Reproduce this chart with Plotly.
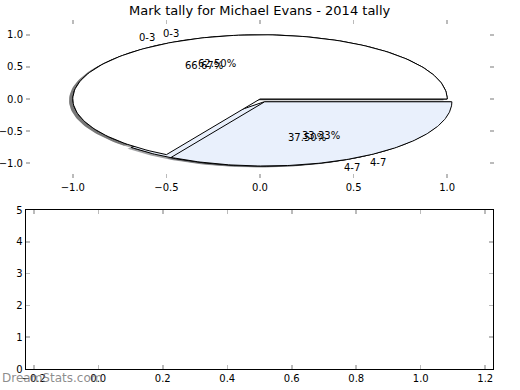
import numpy as np
import plotly.graph_objects as go

# ---- data ----
title_text = "Mark tally for Michael Evans - 2014 tally"
categories = ["0-3", "4-7"]
pie_back = [62.5, 37.5]      # drawn first (underneath)
pie_front = [66.67, 33.33]   # drawn on top
explode = [0.0, 0.05]
wedge_colors = [(255, 255, 255), (233, 240, 252)]
top_xticks = [-1.0, -0.5, 0.0, 0.5, 1.0]
top_yticks = [-1.0, -0.5, 0.0, 0.5, 1.0]
bottom_xticks = [-0.2, 0.0, 0.2, 0.4, 0.6, 0.8, 1.0, 1.2]
bottom_yticks = [0, 1, 2, 3, 4, 5]
watermark = "DreamStats.com"

FONT = "DejaVu Sans"
SHADOW = (-0.02, -0.02)


def wedges(values):
    total = float(sum(values))
    out = []
    t0 = 0.0
    for i, v in enumerate(values):
        frac = v / total
        t1 = t0 + 360.0 * frac
        mid = np.deg2rad((t0 + t1) / 2.0)
        cx = explode[i] * np.cos(mid)
        cy = explode[i] * np.sin(mid)
        th = np.deg2rad(np.linspace(t0, t1, 160))
        xs = np.concatenate([[cx], cx + np.cos(th), [cx]])
        ys = np.concatenate([[cy], cy + np.sin(th), [cy]])
        out.append(dict(x=xs, y=ys, mid=mid, cx=cx, cy=cy, frac=frac, idx=i))
        t0 = t1
    return out


def fmt(v):
    return "%.1f" % v if v >= 0 else "\u2212%.1f" % -v


fig = go.Figure()
pies = [wedges(pie_back), wedges(pie_front)]

# shadows (below every wedge)
for pie in pies:
    for w in pie:
        r, g, b = wedge_colors[w["idx"]]
        col = "rgba(%d,%d,%d,0.5)" % (int(0.3 * r), int(0.3 * g), int(0.3 * b))
        fig.add_trace(go.Scatter(x=w["x"] + SHADOW[0], y=w["y"] + SHADOW[1],
                                 mode="lines", fill="toself", fillcolor=col,
                                 line=dict(width=0, color=col),
                                 hoverinfo="skip", showlegend=False,
                                 xaxis="x", yaxis="y"))

annotations = []
for pie in pies:
    for w in pie:
        r, g, b = wedge_colors[w["idx"]]
        fig.add_trace(go.Scatter(x=w["x"], y=w["y"], mode="lines", fill="toself",
                                 fillcolor="rgb(%d,%d,%d)" % (r, g, b),
                                 line=dict(width=1, color="black"),
                                 hoverinfo="skip", showlegend=False,
                                 xaxis="x", yaxis="y"))
        lx = w["cx"] + 1.1 * np.cos(w["mid"])
        ly = w["cy"] + 1.1 * np.sin(w["mid"])
        annotations.append(dict(x=lx, y=ly, xref="x", yref="y",
                                text=categories[w["idx"]], showarrow=False,
                                xanchor="left" if lx > 0 else "right",
                                yanchor="middle",
                                font=dict(family=FONT, size=10, color="black")))
        px = w["cx"] + 0.6 * np.cos(w["mid"])
        py = w["cy"] + 0.6 * np.sin(w["mid"])
        annotations.append(dict(x=px, y=py, xref="x", yref="y",
                                text="%.2f%%" % (100 * w["frac"]), showarrow=False,
                                xanchor="center", yanchor="middle",
                                font=dict(family=FONT, size=10, color="black")))

annotations.append(dict(x=0.5, y=(390 - 10) / 390, xref="paper", yref="paper",
                        text=title_text, showarrow=False, xanchor="center",
                        yanchor="middle",
                        font=dict(family=FONT, size=13, color="black")))
annotations.append(dict(x=0.0, y=(390 - 378) / 390, xref="paper", yref="paper",
                        text=watermark, showarrow=False, xanchor="left",
                        yanchor="middle",
                        font=dict(family=FONT, size=12, color="rgba(120,120,120,0.85)")))

tick_common = dict(ticks="inside", ticklen=4, tickwidth=1.5, tickcolor="#bbbbbb",
                   showgrid=False, zeroline=False, automargin=False,
                   tickfont=dict(family=FONT, size=10, color="black"))

fig.update_layout(
    width=520, height=390,
    margin=dict(l=0, r=0, t=0, b=0, pad=0, autoexpand=False),
    paper_bgcolor="white", plot_bgcolor="white",
    showlegend=False,
    annotations=annotations,
    xaxis=dict(domain=[26 / 520, 494 / 520], range=[-1.25, 1.25],
               tickvals=top_xticks, ticktext=[fmt(v) for v in top_xticks],
               showline=True, linecolor="rgba(0,0,0,0)", mirror="ticks",
               anchor="y", **tick_common),
    yaxis=dict(domain=[(390 - 178) / 390, (390 - 20) / 390], range=[-1.23, 1.23],
               tickvals=top_yticks, ticktext=[fmt(v) for v in top_yticks],
               showline=True, linecolor="rgba(0,0,0,0)", mirror="ticks",
               anchor="x", **tick_common),
    xaxis2=dict(domain=[25.7 / 520, 493.3 / 520], range=[-0.225, 1.225],
                tickvals=bottom_xticks, ticktext=[fmt(v) for v in bottom_xticks],
                showline=True, linecolor="black", linewidth=1, mirror="ticks",
                anchor="y2", **tick_common),
    yaxis2=dict(domain=[(390 - 369) / 390, (390 - 210) / 390], range=[0, 5],
                tickvals=bottom_yticks, ticktext=[str(v) for v in bottom_yticks],
                showline=True, linecolor="black", linewidth=1, mirror="ticks",
                anchor="x2", **tick_common),
)
fig.add_trace(go.Scatter(x=[None], y=[None], xaxis="x2", yaxis="y2",
                         showlegend=False, hoverinfo="skip"))

fig.write_html("out.html",
               config={"displayModeBar": False, "staticPlot": True},
               post_script="document.body.style.margin='0px';document.body.style.overflow='hidden';")
